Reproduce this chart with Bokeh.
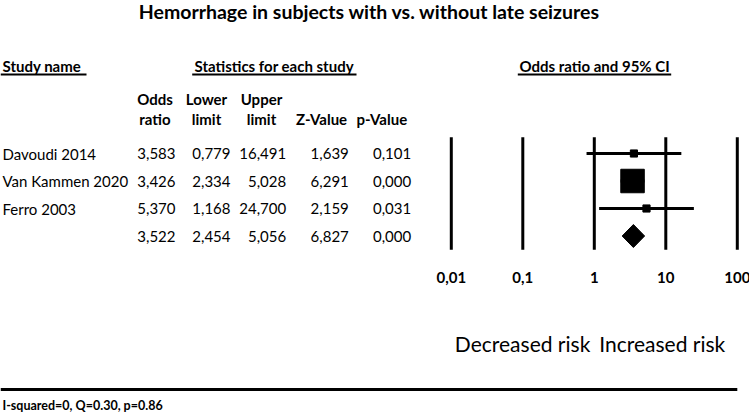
import math
from bokeh.plotting import figure
from bokeh.models import Range1d, LogScale
from bokeh.core.properties import value
from bokeh.embed import file_html
from bokeh.resources import INLINE

# ---------------- data ----------------
chart_title = "Hemorrhage in subjects with vs. without late seizures"
studies = ["Davoudi 2014", "Van Kammen 2020", "Ferro 2003"]
odds_ratio = [3.583, 3.426, 5.370]
lower_limit = [0.779, 2.334, 1.168]
upper_limit = [16.491, 5.028, 24.700]
z_values = [1.639, 6.291, 2.159]
p_values = [0.101, 0.000, 0.031]
pooled_or = 3.522
pooled_lower = 2.454
pooled_upper = 5.056
pooled_z = 6.827
pooled_p = 0.000
tick_values = [0.01, 0.1, 1, 10, 100]
tick_labels = ["0,01", "0,1", "1", "10", "100"]
col_head_top = ["Odds", "Lower", "Upper", "", ""]
col_head_bottom = ["ratio", "limit", "limit", "Z-Value", "p-Value"]
heterogeneity = "I-squared=0, Q=0.30, p=0.86"

# ---------------- layout ----------------
W, H = 749, 413
FONT = value("Lato")
AX_LEFT_PX, AX_RIGHT_PX = 450.8, 736.8   # pixel x of OR 0.01 and OR 100
ROW0, ROW_STEP = 153.0, 27.5
COL_RIGHT = [175, 230, 285.7, 348.3, 410.7]
COL_HEAD_CENTER = [154.5, 206, 261, 321, 381.3]
LEFT_X = 2

dec = (AX_RIGHT_PX - AX_LEFT_PX) / (math.log10(tick_values[-1]) - math.log10(tick_values[0]))
lo = math.log10(tick_values[0]) - AX_LEFT_PX / dec
hi = math.log10(tick_values[-1]) + (W - AX_RIGHT_PX) / dec

p = figure(width=W, height=H, output_backend="svg", toolbar_location=None,
           x_range=Range1d(0, W), y_range=Range1d(H, 0),
           x_axis_type=None, y_axis_type=None, min_border=0,
           outline_line_color=None, background_fill_color="white",
           border_fill_color="white")
p.extra_x_ranges = {"or": Range1d(10 ** lo, 10 ** hi)}
p.extra_x_scales = {"or": LogScale()}

def fmt(v):
    return f"{v:.3f}".replace(".", ",")

# title
p.text(x=[369], y=[10.5], text=[chart_title], text_font=FONT, text_font_style="bold",
       text_font_size="19.5px", text_align="center", text_baseline="middle", text_color="black")

# section headers + underlines
p.text(x=[LEFT_X, 194, 519], y=[65, 65, 65],
       text=["Study name", "Statistics for each study", "Odds ratio and 95% CI"],
       text_font=FONT, text_font_style="bold", text_font_size="15px",
       text_align="left", text_baseline="middle", text_color="black")
p.segment(x0=[0, 191.7, 517.3], x1=[86, 356, 670.7], y0=[74, 74, 74], y1=[74, 74, 74],
          line_color="black", line_width=2)

# column headers
p.text(x=COL_HEAD_CENTER, y=[98] * 5, text=col_head_top, text_font=FONT,
       text_font_style="bold", text_font_size="15px", text_align="center",
       text_baseline="middle", text_color="black")
p.text(x=COL_HEAD_CENTER, y=[118.5] * 5, text=col_head_bottom, text_font=FONT,
       text_font_style="bold", text_font_size="15px", text_align="center",
       text_baseline="middle", text_color="black")

# table rows
n = len(studies)
row_y = [ROW0 + i * ROW_STEP for i in range(n)]
pool_y = ROW0 + n * ROW_STEP
p.text(x=[LEFT_X] * n, y=row_y, text=studies, text_font=FONT, text_font_size="15px",
       text_align="left", text_baseline="middle", text_color="black")
columns = [odds_ratio + [pooled_or], lower_limit + [pooled_lower], upper_limit + [pooled_upper],
           z_values + [pooled_z], p_values + [pooled_p]]
for cx, col in zip(COL_RIGHT, columns):
    p.text(x=[cx] * (n + 1), y=row_y + [pool_y], text=[fmt(v) for v in col],
           text_font=FONT, text_font_size="15px", text_align="right",
           text_baseline="middle", text_color="black")

# forest plot: reference lines and tick labels
p.segment(x0=tick_values, x1=tick_values, y0=[136.7] * 5, y1=[249.3] * 5,
          line_color="black", line_width=3, x_range_name="or")
p.text(x=tick_values, y=[277] * 5, text=tick_labels, text_font=FONT, text_font_style="bold",
       text_font_size="15px", text_align="center", text_baseline="middle",
       text_color="black", x_range_name="or")

# CI lines
p.segment(x0=lower_limit, x1=upper_limit, y0=row_y, y1=row_y, line_color="black",
          line_width=3, x_range_name="or")

# weights (inverse variance from CI) -> square size
w = [1.0 / ((math.log(u) - math.log(l)) / (2 * 1.96)) ** 2 for l, u in zip(lower_limit, upper_limit)]
wmax = max(w)
sizes = [23.5 * (wi / wmax) ** 0.43 for wi in w]
p.scatter(x=odds_ratio, y=row_y, size=sizes, marker="square", fill_color="black",
          line_color="black", x_range_name="or")

# pooled diamond
p.patch(x=[pooled_lower, pooled_or, pooled_upper, pooled_or],
        y=[pool_y, pool_y - 11.5, pool_y, pool_y + 11.5],
        fill_color="black", line_color="black", x_range_name="or")

# risk labels
p.text(x=[1], y=[343], text=["Decreased risk"], text_font=FONT, text_font_size="21px",
       text_align="right", text_baseline="middle", text_color="black",
       x_offset=-4, x_range_name="or")
p.text(x=[1], y=[343], text=["Increased risk"], text_font=FONT, text_font_size="21px",
       text_align="left", text_baseline="middle", text_color="black",
       x_offset=5, x_range_name="or")

# bottom rule and heterogeneity note
p.segment(x0=[0], x1=[AX_RIGHT_PX], y0=[389], y1=[389], line_color="black", line_width=3)
p.text(x=[LEFT_X], y=[405], text=[heterogeneity], text_font=FONT, text_font_style="bold",
       text_font_size="12.5px", text_align="left", text_baseline="middle", text_color="black")

open("out.html", "w").write(file_html(p, INLINE))
